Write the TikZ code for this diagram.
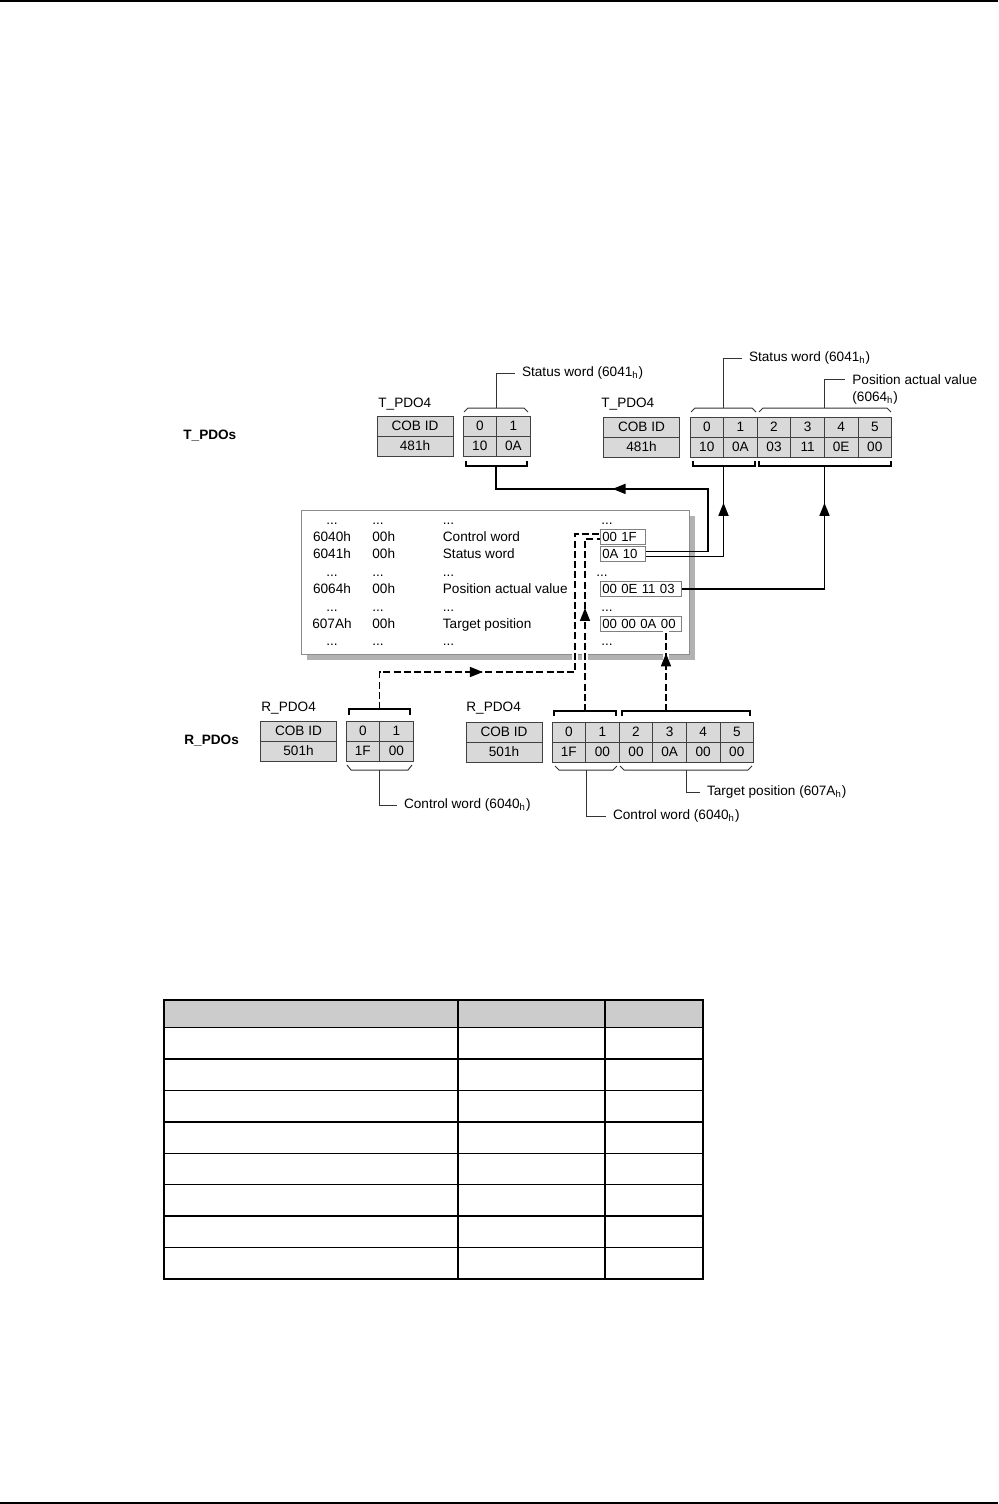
\documentclass[tikz,border=0pt]{standalone}
\usepackage{fontspec}
\setmainfont{Liberation Sans}
\usetikzlibrary{arrows.meta,positioning,shadows,decorations.markings}

\begin{document}
\begin{tikzpicture}[
    x=0.5pt, y=-0.5pt,
    font=\fontsize{6.8}{8.2}\selectfont,
    celula/.style={
        rectangle,
        draw=black!75,
        fill=black!15,
        line width=0.45pt,
        inner sep=0pt,
        outer sep=0pt,
        minimum width=16.8pt,
        minimum height=10pt
    },
    cobid/.style={
        celula,
        minimum width=38pt
    },
    valor/.style={
        rectangle,
        draw=black!50,
        line width=0.45pt,
        anchor=base west,
        align=left,
        text width=#1,
        inner xsep=0.9pt,
        inner ysep=1.3pt,
        text height=4.9pt,
        text depth=0pt,
        font=\fontsize{6.6}{8}\selectfont
    },
    dicionario/.style={
        rectangle,
        draw=black!45,
        fill=white,
        line width=0.5pt,
        minimum width=194pt,
        minimum height=72pt,
        drop shadow={shadow xshift=3pt, shadow yshift=-3pt, fill=black!30, opacity=1}
    },
    coluna/.style={
        inner sep=0pt,
        align=left,
        anchor=base west,
        font=\fontsize{6.8}{8.7}\selectfont
    },
    rotulo/.style={anchor=west},
    titulo/.style={anchor=west, inner sep=0pt},
    grupo/.style={anchor=west, inner sep=0pt, font=\fontsize{6.8}{8.2}\selectfont\bfseries},
    chave/.style={draw=black!80, line width=0.5pt},
    colchete/.style={draw=black, line width=1pt},
    guia/.style={draw=black!80, line width=0.5pt},
    tabela/.style={draw=black, line width=0.75pt},
    seta/.style={
        line width=0.8pt,
        postaction={decorate},
        decoration={markings, mark=at position #1 with {\arrow{Triangle[length=6.5pt,width=5pt]}}}
    },
    retorno/.style={
        seta=#1,
        dash pattern=on 3.5pt off 1.6pt,
        preaction={draw=white, line width=3pt, solid}
    }
]
\useasboundingbox (0,0) rectangle (998,1504);

% linhas da pagina
\draw[line width=1pt] (0,1) -- (998,1);
\draw[line width=1pt] (0,1502.5) -- (998,1502.5);

% T_PDOs
\node[grupo] (tpdos) at (183,436) {T\_PDOs};

\node[titulo] (tpdoA) at (378,404) {T\_PDO4};
\node[cobid] (tA-cob) at (415,426) {COB ID};
\node[cobid] (tA-id) at (415,446) {481h};
\node[celula] (tA-n0) at (479.8,426) {0};
\node[celula] (tA-n1) at (513.4,426) {1};
\node[celula] (tA-b0) at (479.8,446) {10};
\node[celula] (tA-b1) at (513.4,446) {0A};

\node[titulo] (tpdoB) at (601,404) {T\_PDO4};
\node[cobid] (tB-cob) at (641.5,427) {COB ID};
\node[cobid] (tB-id) at (641.5,447) {481h};
\node[celula] (tB-n0) at (706.8,427) {0};
\node[celula] (tB-n1) at (740.4,427) {1};
\node[celula] (tB-n2) at (774.0,427) {2};
\node[celula] (tB-n3) at (807.6,427) {3};
\node[celula] (tB-n4) at (841.2,427) {4};
\node[celula] (tB-n5) at (874.8,427) {5};
\node[celula] (tB-b0) at (706.8,447) {10};
\node[celula] (tB-b1) at (740.4,447) {0A};
\node[celula] (tB-b2) at (774.0,447) {03};
\node[celula] (tB-b3) at (807.6,447) {11};
\node[celula] (tB-b4) at (841.2,447) {0E};
\node[celula] (tB-b5) at (874.8,447) {00};

% R_PDOs
\node[grupo] (rpdos) at (184,741) {R\_PDOs};

\node[titulo] (rpdoA) at (261,708) {R\_PDO4};
\node[cobid] (rA-cob) at (298.5,731) {COB ID};
\node[cobid] (rA-id) at (298.5,751) {501h};
\node[celula] (rA-n0) at (362.8,731) {0};
\node[celula] (rA-n1) at (396.4,731) {1};
\node[celula] (rA-b0) at (362.8,751) {1F};
\node[celula] (rA-b1) at (396.4,751) {00};

\node[titulo] (rpdoB) at (466,708) {R\_PDO4};
\node[cobid] (rB-cob) at (504,732) {COB ID};
\node[cobid] (rB-id) at (504,752) {501h};
\node[celula] (rB-n0) at (568.8,732) {0};
\node[celula] (rB-n1) at (602.4,732) {1};
\node[celula] (rB-n2) at (636.0,732) {2};
\node[celula] (rB-n3) at (669.6,732) {3};
\node[celula] (rB-n4) at (703.2,732) {4};
\node[celula] (rB-n5) at (736.8,732) {5};
\node[celula] (rB-b0) at (568.8,752) {1F};
\node[celula] (rB-b1) at (602.4,752) {00};
\node[celula] (rB-b2) at (636.0,752) {00};
\node[celula] (rB-b3) at (669.6,752) {0A};
\node[celula] (rB-b4) at (703.2,752) {00};
\node[celula] (rB-b5) at (736.8,752) {00};

% DICIONARIO DE OBJETOS
\node[dicionario] (dicionario) at (495,582) {};
\node[coluna, align=center, anchor=base] (indices) at (332,645.8) {...\\6040h\\6041h\\...\\6064h\\...\\607Ah\\...};
\node[coluna] (subindices) at (372,645.8) {...\\00h\\00h\\...\\00h\\...\\00h\\...};
\node[coluna] (nomes) at (442.5,645.8) {...\\Control word\\Status word\\...\\Position actual value\\...\\Target position\\...};
\node[coluna] (ret1) at (601,524) {...};
\node[coluna] (ret2) at (596,576.2) {...};
\node[coluna] (ret3) at (601,611) {...};
\node[coluna] (ret4) at (601,645.8) {...};
\node[valor=20.7pt] (cw40) at (600,541.4) {00 1F};
\node[valor=20.7pt] (sw41) at (600,558.8) {0A 10};
\node[valor=38.7pt] (pav) at (600,593.6) {00 0E 11 03};
\node[valor=38.7pt] (tp7A) at (600,628.4) {00 00 0A 00};

% pontos das chaves
\coordinate (supTA) at (496,408);
\coordinate (supTB) at (723.5,408);
\coordinate (supTC) at (824.5,408);
\coordinate (chTA) at (496,466);
\coordinate (chTB) at (723.5,466);
\coordinate (chTC) at (824.5,466);
\coordinate (chRA) at (379.5,709);
\coordinate (chRB) at (585,711);
\coordinate (chRC) at (666,711);
\coordinate (infRA) at (379.5,770);
\coordinate (infRB) at (586,770);
\coordinate (infRC) at (686,770);

% --- T_PDO: DICIONARIO -> MENSAGEM ---
\draw[seta=0.612] ([yshift=1.25pt]sw41.east) -- ++(62,0) -- ++(0,-62.5) -| (chTA);
\draw[seta=0.781] ([yshift=-1.25pt]sw41.east) -| (chTB);
\draw[seta=0.861] (pav.east) -| (chTC);

% --- R_PDO: MENSAGEM -> DICIONARIO ---
\draw[retorno=0.355] (chRA) -- ++(0,-37) -- ++(195.5,0) |- ([yshift=1.25pt]cw40.west);
\draw[retorno=0.551] (chRB) |- ([yshift=-1.25pt]cw40.west);
\draw[retorno=0.725] (chRC) -- (chRC |- tp7A.south);

% chaves e colchetes
\draw[chave] (464,412) -- (468,408) -- (524,408) -- (528,412);
\draw[chave] (691,412) -- (695,408) -- (752,408) -- (756,412);
\draw[chave] (759,412) -- (763,408) -- (887,408) -- (891,412);
\draw[colchete] (466,461) -- (466,466) -- (527,466) -- (527,461);
\draw[colchete] (693,461) -- (693,466) -- (755,466) -- (755,461);
\draw[colchete] (759,461) -- (759,466) -- (891,466) -- (891,461);
\draw[colchete] (349,715) -- (349,709) -- (410,709) -- (410,715);
\draw[colchete] (554,716) -- (554,711) -- (616,711) -- (616,716);
\draw[colchete] (622,716) -- (622,711) -- (750,711) -- (750,716);
\draw[chave] (347,765) -- (351,770) -- (408,770) -- (412,765);
\draw[chave] (555,766) -- (559,770) -- (613,770) -- (617,766);
\draw[chave] (620,766) -- (624,770) -- (748,770) -- (752,766);

% rotulos
\node[rotulo] (rotTA) at (515,373) {Status word (6041\textsubscript{h})};
\node[rotulo] (rotTB) at (742,358) {Status word (6041\textsubscript{h})};
\node[anchor=base west, inner sep=0pt, align=left, font=\fontsize{6.8}{8.5}\selectfont] (rotTC) at (852,401) {Position actual value\\(6064\textsubscript{h})};
\node[rotulo] (rotRA) at (397,805) {Control word (6040\textsubscript{h})};
\node[rotulo] (rotRB) at (606,816) {Control word (6040\textsubscript{h})};
\node[rotulo] (rotRC) at (700,792) {Target position (607A\textsubscript{h})};

\draw[guia] (supTA) |- (rotTA.west);
\draw[guia] (supTB) |- (rotTB.west);
\draw[guia] (supTC) |- ([xshift=-3.5pt,yshift=10.9pt]rotTC.base west);
\draw[guia] (infRA) |- (rotRA.west);
\draw[guia] (infRB) |- (rotRB.west);
\draw[guia] (infRC) |- (rotRC.west);

% tabela vazia
\fill[black!20] (164,1000) rectangle (703,1027.7);
\draw[tabela] (164,1000) rectangle (703,1278.9);
\draw[tabela] (458,1000) -- (458,1278.9) (605,1000) -- (605,1278.9);
\draw[tabela] (164,1027.7) -- (703,1027.7) (164,1059.1) -- (703,1059.1)
    (164,1090.5) -- (703,1090.5) (164,1121.9) -- (703,1121.9)
    (164,1153.3) -- (703,1153.3) (164,1184.7) -- (703,1184.7)
    (164,1216.1) -- (703,1216.1) (164,1247.5) -- (703,1247.5);

\end{tikzpicture}
\end{document}
